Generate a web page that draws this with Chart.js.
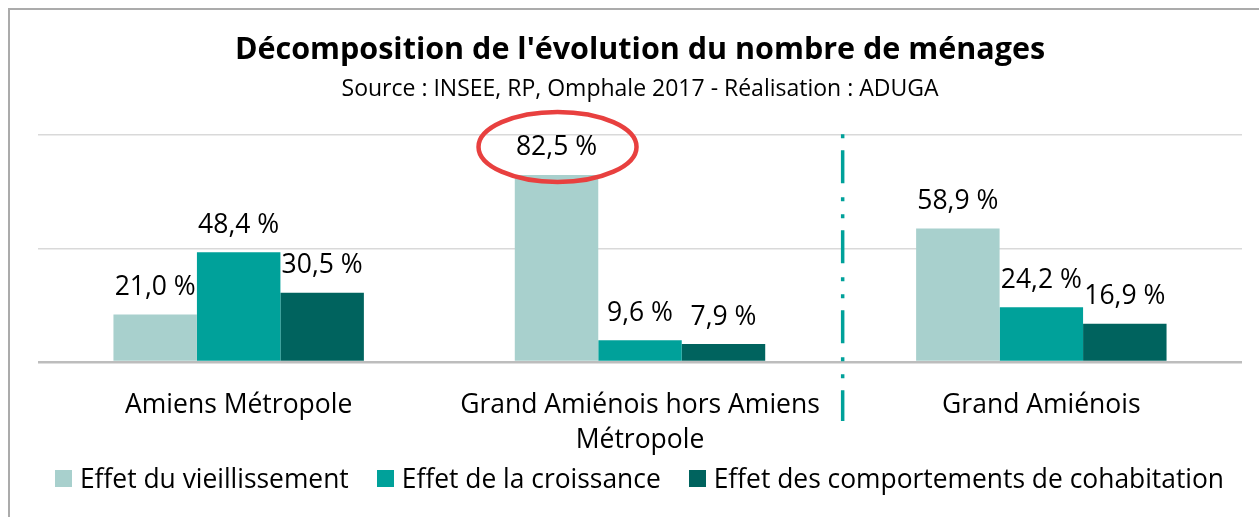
<!DOCTYPE html>
<html>
<head>
<meta charset="utf-8">
<script src="https://cdn.jsdelivr.net/npm/chart.js@4"></script>
<style>
  html, body { margin: 0; padding: 0; overflow: hidden; background: #fff; }
  #frame { position: absolute; left: 8px; top: 8px; width: 1400px; height: 700px; border: 2px solid #ABABAB; }
  #wrap { position: absolute; left: 0; top: 0; width: 1259px; height: 517px; }
  #legend { position: absolute; left: 10px; top: 462px; width: 1259px; display: flex; justify-content: center;
            font-family: 'Open Sans', 'Noto Sans', sans-serif; font-size: 26.4px; line-height: 32px; color: #000; }
  #legend .item { display: flex; align-items: center; margin: 0 14px; }
  #legend .box { width: 17px; height: 17px; margin-right: 8px; }
</style>
</head>
<body>
<div id="frame"></div>
<div id="wrap"><canvas id="chart"></canvas></div>
<div id="legend"></div>
<script>
    // données
    const categories = [`Amiens Métropole`, [`Grand Amiénois hors Amiens`, `Métropole`], `Grand Amiénois`]
    const seriesNames = [`Effet du vieillissement`, `Effet de la croissance`, `Effet des comportements de cohabitation`]
    const vieillissement = [21.0, 82.5, 58.9]
    const croissance = [48.4, 9.6, 24.2]
    const cohabitation = [30.5, 7.9, 16.9]
    const yTicks = [0, 50, 100]
    const colors = [`#A8D0CD`, `#00A19A`, `#00635E`]

    const FONT = `'Open Sans', 'Noto Sans', sans-serif`

    const fmt = (v) => v.toFixed(1).replace(`.`, `,`) + ` %`

    // étiquettes de valeur + ellipse rouge + séparateur pointillé
    const extras = {
        id: `extras`,
        afterDatasetsDraw(chart) {
            const ctx = chart.ctx
            const area = chart.chartArea
            const x = chart.scales.x
            ctx.save()

            // séparateur entre le 2e et le 3e groupe
            const sepX = (x.getPixelForValue(1) + x.getPixelForValue(2)) / 2 + 2
            ctx.strokeStyle = `#00A19A`
            ctx.lineWidth = 3.5
            ctx.setLineDash([4, 12, 33, 14, 4, 13])
            ctx.beginPath()
            ctx.moveTo(sepX, area.top - 1)
            ctx.lineTo(sepX, 421)
            ctx.stroke()
            ctx.setLineDash([])

            ctx.font = `26.5px ${FONT}`
            ctx.fillStyle = `#000`
            ctx.textAlign = `center`
            ctx.textBaseline = `middle`
            chart.data.datasets.forEach((ds, i) => {
                chart.getDatasetMeta(i).data.forEach((bar, j) => {
                    ctx.fillText(fmt(ds.data[j]), bar.x, bar.y - 27)
                })
            })

            // ellipse autour du maximum
            const hl = chart.getDatasetMeta(0).data[1]
            ctx.strokeStyle = `#E8403F`
            ctx.lineWidth = 4.5
            ctx.beginPath()
            ctx.ellipse(hl.x + 1, hl.y - 28, 79, 35, 0, 0, Math.PI * 2)
            ctx.stroke()
            ctx.restore()
        }
    }

    const chart = new Chart(document.getElementById(`chart`), {
        type: `bar`,
        data: {
            labels: categories,
            datasets: [
                { label: seriesNames[0], data: vieillissement, backgroundColor: colors[0] },
                { label: seriesNames[1], data: croissance, backgroundColor: colors[1] },
                { label: seriesNames[2], data: cohabitation, backgroundColor: colors[2] }
            ]
        },
        options: {
            responsive: true,
            maintainAspectRatio: false,
            animation: false,
            layout: { padding: { left: 38, right: 17, top: 32, bottom: 33 } },
            datasets: { bar: { categoryPercentage: 0.624, barPercentage: 1 } },
            scales: {
                x: {
                    grid: { display: false, drawTicks: false },
                    border: { display: false },
                    ticks: { color: `#000`, font: { family: FONT, size: 26.5, lineHeight: 1.32 }, padding: 26 }
                },
                y: {
                    min: 0,
                    max: 100,
                    afterBuildTicks: (scale) => { scale.ticks = yTicks.map(v => ({ value: v })) },
                    ticks: { display: false },
                    border: { display: false },
                    grid: {
                        drawTicks: false,
                        color: (c) => c.tick && c.tick.value === 0 ? `#BDBDBD` : `#D9D9D9`,
                        lineWidth: (c) => c.tick && c.tick.value === 0 ? 2.5 : 1.5
                    }
                }
            },
            plugins: {
                title: {
                    display: true,
                    text: `Décomposition de l'évolution du nombre de ménages`,
                    color: `#000`,
                    font: { family: FONT, size: 30.5, weight: `bold` },
                    padding: { top: 0, bottom: 7 }
                },
                subtitle: {
                    display: true,
                    text: `Source : INSEE, RP, Omphale 2017 - Réalisation : ADUGA`,
                    color: `#000`,
                    font: { family: FONT, size: 23 },
                    padding: { top: 0, bottom: 32 }
                },
                legend: { display: false },
                tooltip: { enabled: false }
            }
        },
        plugins: [extras]
    })

    // légende en HTML
    const legend = document.getElementById(`legend`)
    chart.data.datasets.forEach((ds) => {
        const item = document.createElement(`div`)
        item.className = `item`
        const box = document.createElement(`span`)
        box.className = `box`
        box.style.background = ds.backgroundColor
        const txt = document.createElement(`span`)
        txt.textContent = ds.label
        item.appendChild(box)
        item.appendChild(txt)
        legend.appendChild(item)
    })
</script>
</body>
</html>
